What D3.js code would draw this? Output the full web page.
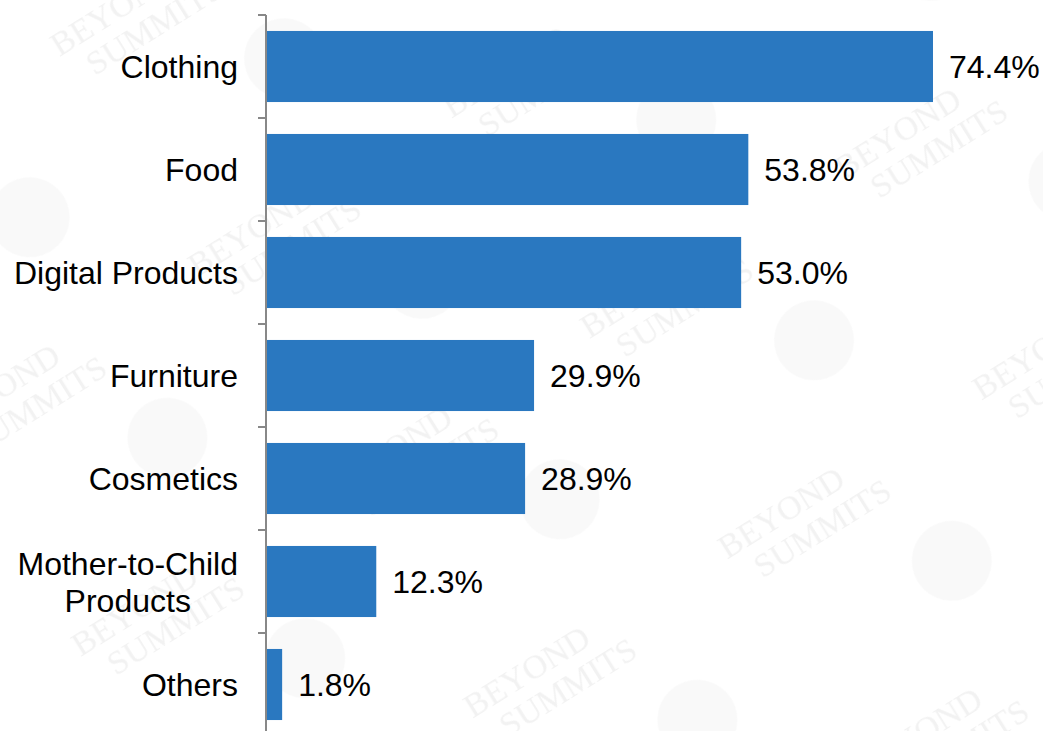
<!DOCTYPE html>
<html>
<head>
<meta charset="utf-8">
<script src="https://cdn.jsdelivr.net/npm/d3@7"></script>
<style>
  body { margin: 0; background: #fff; }
  svg { display: block; font-family: "Liberation Sans", Arial, sans-serif; }
</style>
</head>
<body>
<svg width="1043" height="731"></svg>
<script>
// data
const categories = ['Clothing', 'Food', 'Digital Products', 'Furniture', 'Cosmetics', 'Mother-to-Child\nProducts', 'Others'];
const values = [74.4, 53.8, 53.0, 29.9, 28.9, 12.3, 1.8];
const valueLabels = ['74.4%', '53.8%', '53.0%', '29.9%', '28.9%', '12.3%', '1.8%'];

const svg = d3.select('svg');
const width = 1043, height = 731;
const axisX = 266;

// faint watermark pattern in the background
const defs = svg.append('defs');
const pat = defs.append('pattern')
    .attr('id', 'wm')
    .attr('patternUnits', 'userSpaceOnUse')
    .attr('width', 300).attr('height', 260)
    .attr('patternTransform', 'rotate(-32)');
const wg = pat.append('g')
    .attr('fill', '#f2f2f2')
    .attr('font-family', '"Liberation Serif", serif')
    .attr('font-size', 34);
wg.append('text').attr('x', 20).attr('y', 80).text('BEYOND');
wg.append('text').attr('x', 40).attr('y', 115).text('SUMMITS');
wg.append('circle').attr('cx', 210).attr('cy', 200).attr('r', 40).attr('fill', '#f9f9f9');
svg.append('rect').attr('width', width).attr('height', height).attr('fill', 'url(#wm)');

const data = categories.map((c, i) => ({ cat: c, value: values[i], label: valueLabels[i] }));

// scales
const y = d3.scaleBand()
    .domain(categories)
    .range([15, 15 + 7 * 103])
    .paddingInner(0.31)
    .paddingOuter(0.155);

const x = d3.scaleLinear()
    .domain([0, 74.4])
    .range([axisX, 933]);

// bars
svg.append('g').selectAll('rect')
    .data(data).enter()
    .append('rect')
    .attr('x', x(0))
    .attr('y', d => y(d.cat))
    .attr('width', d => x(d.value) - x(0))
    .attr('height', y.bandwidth())
    .attr('fill', '#2a78c0');

// value labels
svg.append('g').selectAll('text')
    .data(data).enter()
    .append('text')
    .attr('x', d => x(d.value) + 16)
    .attr('y', d => y(d.cat) + y.bandwidth() / 2)
    .attr('dy', '0.36em')
    .attr('font-size', 32)
    .attr('fill', '#000')
    .text(d => d.label);

// axis line + boundary ticks
const step = y.step();
const ax = svg.append('g').attr('stroke', '#888').attr('stroke-width', 2);
ax.append('line')
    .attr('x1', axisX).attr('x2', axisX)
    .attr('y1', y.range()[0]).attr('y2', y.range()[1]);
ax.selectAll('.tick')
    .data(d3.range(categories.length + 1)).enter()
    .append('line')
    .attr('x1', axisX - 8).attr('x2', axisX)
    .attr('y1', i => y.range()[0] + i * step)
    .attr('y2', i => y.range()[0] + i * step);

// category labels
const lab = svg.append('g').selectAll('text')
    .data(data).enter()
    .append('text')
    .attr('text-anchor', 'middle')
    .attr('font-size', 32)
    .attr('fill', '#000')
    .attr('transform', d => `translate(0, ${y(d.cat) + y.bandwidth() / 2})`);

lab.each(function(d) {
    const lines = d.cat.split('\n');
    const t = d3.select(this);
    const lh = 37;
    lines.forEach((l, i) => {
        t.append('tspan')
            .attr('x', 0)
            .attr('y', (i - (lines.length - 1) / 2) * lh)
            .attr('dy', '0.36em')
            .text(l);
    });
});
// right-align block, center multi-line text within it
lab.each(function() {
    const bb = this.getBBox();
    const tx = 238 - bb.width / 2;
    const cur = d3.select(this).attr('transform');
    d3.select(this).attr('transform', cur.replace('translate(0', `translate(${tx}`));
});
</script>
</body>
</html>
